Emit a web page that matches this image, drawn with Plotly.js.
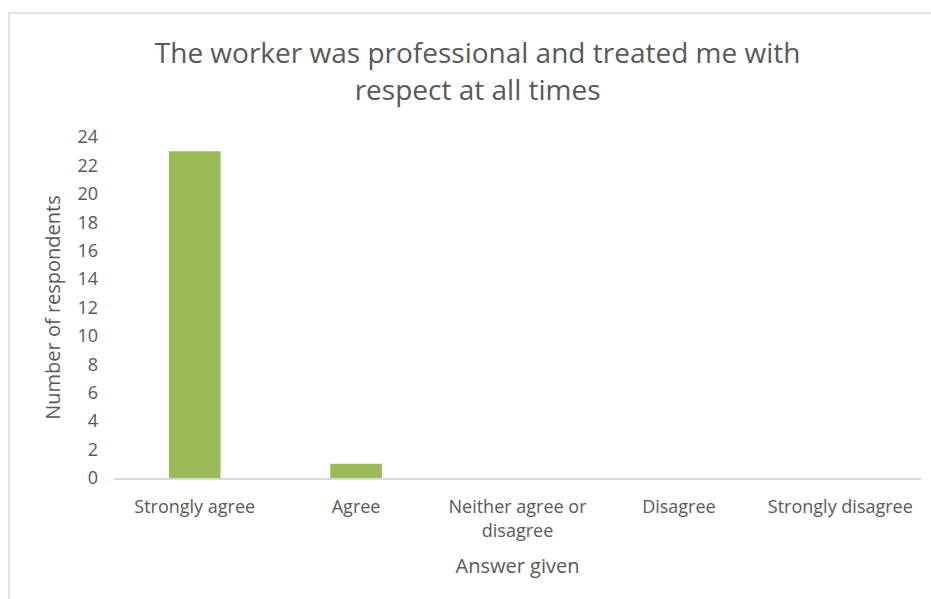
<!DOCTYPE html>
<html>
<head>
<meta charset="utf-8">
<script src="https://cdn.plot.ly/plotly-3.0.1.min.js"></script>
<style>
  html, body { margin: 0; padding: 0; background: #fff; }
  #chart { width: 931px; height: 599px; }
</style>
</head>
<body>
<div id="chart"></div>
<script>
const categories = ["Strongly agree", "Agree", "Neither agree or<br>disagree", "Disagree", "Strongly disagree"];
const respondents = [23, 1, 0, 0, 0];
const yTicks = [0, 2, 4, 6, 8, 10, 12, 14, 16, 18, 20, 22, 24];

const FONT = "Open Sans, Noto Sans, sans-serif";
const TEXT = "#595959";

const trace = {
  type: "bar",
  x: categories,
  y: respondents,
  marker: { color: "#9BBB59" },
  hoverinfo: "x+y"
};

const layout = {
  width: 931,
  height: 599,
  paper_bgcolor: "#ffffff",
  plot_bgcolor: "#ffffff",
  margin: { l: 114, r: 10, t: 137, b: 121 },
  bargap: 0.68,
  showlegend: false,
  font: { family: FONT, color: TEXT },
  title: {
    text: "The worker was professional and treated me with<br>respect at all times",
    font: { family: FONT, size: 28, color: TEXT },
    x: 0.513, xanchor: "center",
    y: 0.894, yanchor: "middle"
  },
  xaxis: {
    type: "category",
    showline: true,
    linecolor: "#d9d9d9",
    linewidth: 1.5,
    ticks: "",
    showgrid: false,
    ticklabelstandoff: 12,
    tickfont: { family: FONT, size: 18, color: TEXT },
    title: { text: "Answer given", font: { family: FONT, size: 20, color: TEXT }, standoff: 18 },
    automargin: false
  },
  yaxis: {
    range: [0, 24],
    tickvals: yTicks,
    ticktext: yTicks.map(String),
    showgrid: false,
    zeroline: false,
    showline: false,
    ticks: "",
    ticklabelstandoff: 15,
    tickfont: { family: FONT, size: 18, color: TEXT },
    title: { text: "Number of respondents", font: { family: FONT, size: 20, color: TEXT }, standoff: 11 },
    automargin: false
  },
  shapes: [{
    type: "rect", xref: "paper", yref: "paper",
    x0: -0.1301, x1: 1.02, y0: -0.38, y1: 1.3636,
    line: { color: "#d9d9d9", width: 1.5 },
    fillcolor: "rgba(0,0,0,0)",
    layer: "below"
  }]
};

Plotly.newPlot("chart", [trace], layout, { displayModeBar: false, staticPlot: true });
</script>
</body>
</html>
